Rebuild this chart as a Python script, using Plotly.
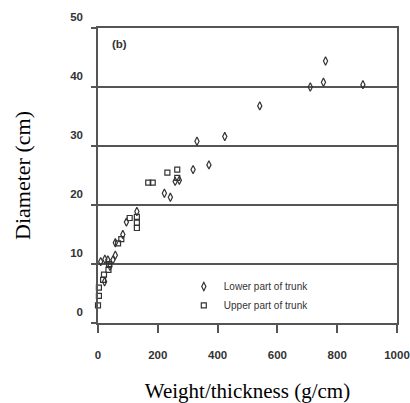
import plotly.graph_objects as go

# Lower part of trunk (diamonds)
lower_x = [9, 23, 33, 40, 22, 50, 58, 58, 83, 95, 130, 222, 242, 258, 272,
           318, 371, 331, 424, 541, 710, 754, 761, 886]
lower_y = [10.4, 10.8, 10.7, 9.6, 7.0, 10.7, 11.5, 13.6, 15.0, 17.1, 18.9, 22.0, 21.3, 24.0, 24.2,
           26.0, 26.8, 30.8, 31.6, 36.8, 40.0, 40.8, 44.4, 40.4]

# Upper part of trunk (squares)
upper_x = [0, 3, 3, 17, 20, 35, 37, 67, 78, 106, 130, 130, 130, 168, 183, 232, 265, 265]
upper_y = [3.0, 4.6, 6.0, 7.3, 8.2, 9.0, 10.0, 13.5, 14.2, 17.8, 18.0, 17.0, 16.1,
           23.8, 23.8, 25.5, 26.0, 24.6]

x_ticks = [0, 200, 400, 600, 800, 1000]
y_ticks = [0, 10, 20, 30, 40, 50]

INK = "#333333"
AX = "#555555"

fig = go.Figure()
fig.add_trace(go.Scatter(
    x=lower_x, y=lower_y, mode="markers", name="Lower part of trunk",
    cliponaxis=False,
    marker=dict(symbol="diamond-tall-open", size=6, color=INK, line=dict(width=1.2, color=INK)),
))
fig.add_trace(go.Scatter(
    x=upper_x, y=upper_y, mode="markers", name="Upper part of trunk",
    cliponaxis=False,
    marker=dict(symbol="square-open", size=5, color=INK, line=dict(width=1.2, color=INK)),
))

fig.update_layout(
    width=410, height=403,
    margin=dict(l=98, r=13, t=28, b=80, autoexpand=False),
    paper_bgcolor="white", plot_bgcolor="white",
    showlegend=True,
    legend=dict(
        x=0.287, y=0.173, xanchor="left", yanchor="top",
        bgcolor="rgba(0,0,0,0)", borderwidth=0,
        font=dict(family="Liberation Sans, Arial", size=10, color=INK),
        tracegroupgap=0,
    ),
    annotations=[dict(
        text="<b>(b)</b>", xref="paper", yref="paper", x=0.04, y=0.945,
        xanchor="left", yanchor="middle", showarrow=False,
        font=dict(family="Liberation Sans, Arial", size=11.5, color=INK),
    )],
)

fig.update_xaxes(
    range=[0, 1000], tickvals=x_ticks, ticktext=[str(v) for v in x_ticks],
    automargin=False,
    showgrid=False, zeroline=False,
    showline=True, linecolor=AX, linewidth=1.5, mirror=True,
    ticks="outside", ticklen=8, tickwidth=1.5, tickcolor=AX,
    ticklabelstandoff=12, ticklabeloverflow="allow",
    tickfont=dict(family="Liberation Sans, Arial", size=11.5, color=INK, weight="bold"),
    title=dict(text="Weight/thickness (g/cm)", standoff=33,
               font=dict(family="Liberation Serif, Times New Roman", size=21, color="black")),
)
fig.update_yaxes(
    range=[0, 50], tickvals=y_ticks, ticktext=[str(v) for v in y_ticks],
    automargin=False,
    showgrid=True, gridcolor=AX, gridwidth=1.5, zeroline=False,
    showline=True, linecolor=AX, linewidth=1.5, mirror=True,
    ticks="outside", ticklen=5, tickwidth=1.5, tickcolor=AX,
    ticklabelshift=-11, ticklabelstandoff=6,
    tickfont=dict(family="Liberation Sans, Arial", size=11.5, color=INK, weight="bold"),
    title=dict(text="Diameter (cm)", standoff=33,
               font=dict(family="Liberation Serif, Times New Roman", size=22, color="black")),
)

fig.write_html(
    "out.html",
    config={"displayModeBar": False},
    post_script="document.body.style.margin='0';document.body.style.overflow='hidden';",
)
